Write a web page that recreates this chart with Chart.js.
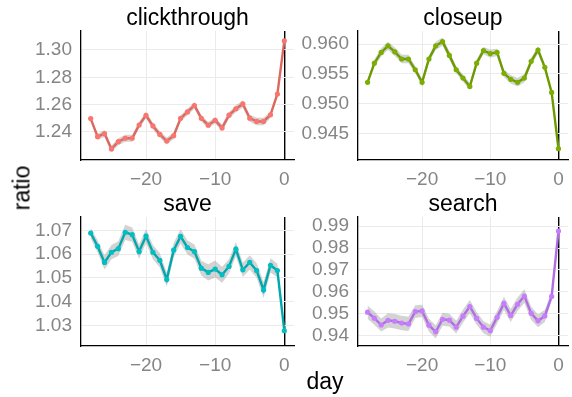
<!DOCTYPE html>
<html>
<head>
<meta charset="utf-8">
<script src="https://cdn.jsdelivr.net/npm/chart.js@4.4.1/dist/chart.umd.min.js"></script>
<style>
  html, body { margin: 0; padding: 0; background: #fff; }
  #wrap { position: relative; width: 572px; height: 397px; overflow: hidden; font-family: "Liberation Sans", Arial, sans-serif; }
  #wrap canvas { position: absolute; left: 0; top: 0; }
  .axis-title { position: absolute; font-size: 23px; line-height: 23px; color: #000; white-space: nowrap; }
  #xlab { left: 325px; top: 370px; transform: translateX(-50%); }
  #ylab { left: 22px; top: 188px; transform: translate(-50%, -50%) rotate(-90deg); }
</style>
</head>
<body>
<div id="wrap">
  <canvas id="clickthrough" width="572" height="397"></canvas>
  <canvas id="closeup" width="572" height="397"></canvas>
  <canvas id="save" width="572" height="397"></canvas>
  <canvas id="search" width="572" height="397"></canvas>
  <div class="axis-title" id="ylab">ratio</div>
  <div class="axis-title" id="xlab">day</div>
</div>
<script>
// --- Data ---
const days = [-28, -27, -26, -25, -24, -23, -22, -21, -20, -19, -18, -17, -16, -15,
              -14, -13, -12, -11, -10, -9, -8, -7, -6, -5, -4, -3, -2, -1, 0];
const xTicks = [-20, -10, 0];

const clickthroughRatio = [1.2498, 1.2366, 1.2388, 1.2276, 1.2329, 1.2354, 1.2354, 1.2451, 1.2522, 1.2444,
                           1.2382, 1.2334, 1.2372, 1.2500, 1.2547, 1.2594, 1.2500, 1.2450, 1.2485, 1.2430,
                           1.2523, 1.2570, 1.2605, 1.2501, 1.2477, 1.2477, 1.2526, 1.2678, 1.3067];
const clickthroughBand = [0.0016, 0.0022, 0.0024, 0.0026, 0.0026, 0.0026, 0.0025, 0.0024, 0.0024, 0.0024,
                          0.0024, 0.0025, 0.0024, 0.0023, 0.0024, 0.0024, 0.0023, 0.0023, 0.0023, 0.0024,
                          0.0024, 0.0025, 0.0026, 0.0026, 0.0027, 0.0027, 0.0023, 0.0014, 0.0004];
const clickthroughTicks = [1.24, 1.26, 1.28, 1.30];

const closeupRatio = [0.9536, 0.9568, 0.9586, 0.9597, 0.9587, 0.9575, 0.9575, 0.9557, 0.9536, 0.9575,
                      0.9597, 0.9604, 0.9581, 0.9557, 0.9543, 0.9529, 0.9568, 0.9589, 0.9584, 0.9586,
                      0.9551, 0.9541, 0.9536, 0.9543, 0.9571, 0.9590, 0.9561, 0.9519, 0.9425];
const closeupBand = [0.0004, 0.0006, 0.0007, 0.0007, 0.0007, 0.0007, 0.0007, 0.0006, 0.0006, 0.0006,
                     0.0007, 0.0007, 0.0007, 0.0006, 0.0006, 0.0006, 0.0006, 0.0006, 0.0007, 0.0006,
                     0.0006, 0.0007, 0.0007, 0.0007, 0.0006, 0.0006, 0.0005, 0.0004, 0.0001];
const closeupTicks = [0.945, 0.950, 0.955, 0.960];

const saveRatio = [1.0689, 1.0633, 1.0565, 1.0608, 1.0623, 1.0692, 1.0682, 1.0611, 1.0676, 1.0608,
                   1.0574, 1.0493, 1.0617, 1.0675, 1.0628, 1.0611, 1.0541, 1.0523, 1.0537, 1.0513,
                   1.0548, 1.0621, 1.0534, 1.0565, 1.0531, 1.0449, 1.0553, 1.0531, 1.0277];
const saveBand = [0.0022, 0.0026, 0.0030, 0.0030, 0.0031, 0.0032, 0.0030, 0.0030, 0.0030, 0.0030,
                  0.0030, 0.0030, 0.0030, 0.0030, 0.0030, 0.0030, 0.0031, 0.0034, 0.0036, 0.0034,
                  0.0030, 0.0030, 0.0030, 0.0030, 0.0031, 0.0034, 0.0030, 0.0028, 0.0004];
const saveTicks = [1.03, 1.04, 1.05, 1.06, 1.07];

const searchRatio = [0.9508, 0.9481, 0.9450, 0.9471, 0.9467, 0.9459, 0.9455, 0.9511, 0.9514, 0.9449,
                     0.9419, 0.9476, 0.9472, 0.9440, 0.9490, 0.9534, 0.9480, 0.9440, 0.9424, 0.9485,
                     0.9548, 0.9493, 0.9544, 0.9581, 0.9503, 0.9469, 0.9491, 0.9580, 0.9877];
const searchBand = [0.0030, 0.0030, 0.0030, 0.0032, 0.0033, 0.0033, 0.0032, 0.0029, 0.0028, 0.0029,
                    0.0030, 0.0030, 0.0029, 0.0029, 0.0030, 0.0030, 0.0029, 0.0028, 0.0027, 0.0029,
                    0.0030, 0.0030, 0.0031, 0.0031, 0.0030, 0.0029, 0.0028, 0.0020, 0.0004];
const searchTicks = [0.94, 0.95, 0.96, 0.97, 0.98, 0.99];

// --- Layout ---
const FONT = '"Liberation Sans", Arial, sans-serif';
const Y_AXIS_W = 60;
const X_AXIS_H = 30;
const CANVAS_W = 572;
const CANVAS_H = 397;

// draws the facet title above each panel
const panelTitle = {
    id: 'panelTitle',
    afterDraw(chart, args, opts) {
        const { ctx, chartArea } = chart;
        ctx.save();
        ctx.font = '23px ' + FONT;
        ctx.fillStyle = '#000';
        ctx.textAlign = 'center';
        ctx.textBaseline = 'alphabetic';
        ctx.fillText(opts.text, (chartArea.left + chartArea.right) / 2, chartArea.top - 6);
        ctx.restore();
    }
};

function fmtDay(v) {
    return v < 0 ? '\u2212' + Math.abs(v) : String(v);
}

function makePanel(id, title, values, band, color, lineColor, yMin, yMax, yTicks, decimals, area) {
    const line = days.map((d, i) => ({ x: d, y: values[i] }));
    const upper = days.map((d, i) => ({ x: d, y: values[i] + band[i] }));
    const lower = days.map((d, i) => ({ x: d, y: values[i] - band[i] }));

    return new Chart(document.getElementById(id), {
        type: 'line',
        data: {
            datasets: [
                {
                    data: line,
                    borderColor: lineColor,
                    borderWidth: 2.4,
                    pointRadius: 2.6,
                    pointBackgroundColor: color,
                    pointBorderColor: color,
                    pointBorderWidth: 0,
                    tension: 0,
                    fill: false
                },
                {
                    data: upper,
                    borderWidth: 0,
                    pointRadius: 0,
                    backgroundColor: 'rgba(150,150,150,0.42)',
                    fill: '+1'
                },
                {
                    data: lower,
                    borderWidth: 0,
                    pointRadius: 0,
                    fill: false
                }
            ]
        },
        options: {
            responsive: false,
            animation: false,
            devicePixelRatio: 1,
            events: [],
            layout: {
                padding: {
                    left: area.left - Y_AXIS_W,
                    right: CANVAS_W - area.right,
                    top: area.top,
                    bottom: CANVAS_H - area.bottom - X_AXIS_H
                }
            },
            plugins: {
                legend: { display: false },
                tooltip: { enabled: false },
                panelTitle: { text: title }
            },
            scales: {
                x: {
                    type: 'linear',
                    min: -29.4,
                    max: 1.4,
                    afterBuildTicks: s => { s.ticks = xTicks.map(v => ({ value: v })); },
                    afterFit: s => { s.height = X_AXIS_H; },
                    grid: {
                        drawTicks: false,
                        color: c => (c.tick && c.tick.value === 0) ? '#000' : '#ebebeb',
                        lineWidth: c => (c.tick && c.tick.value === 0) ? 1.4 : 1
                    },
                    border: { display: true, color: '#000', width: 1.3 },
                    ticks: {
                        padding: 8,
                        maxRotation: 0,
                        color: '#858585',
                        font: { family: FONT, size: 19 },
                        callback: v => fmtDay(v)
                    }
                },
                y: {
                    min: yMin,
                    max: yMax,
                    afterBuildTicks: s => { s.ticks = yTicks.map(v => ({ value: v })); },
                    afterFit: s => { s.width = Y_AXIS_W; },
                    grid: { drawTicks: false, color: '#ebebeb', lineWidth: 1 },
                    border: { display: true, color: '#000', width: 1.3 },
                    ticks: {
                        padding: 9,
                        color: '#858585',
                        font: { family: FONT, size: 19 },
                        callback: v => Number(v).toFixed(decimals)
                    }
                }
            }
        },
        plugins: [panelTitle]
    });
}

makePanel('clickthrough', 'clickthrough', clickthroughRatio, clickthroughBand, '#F8766D', '#de675f',
          1.2195, 1.3139, clickthroughTicks, 2, { left: 81, right: 294, top: 31, bottom: 160 });
makePanel('closeup', 'closeup', closeupRatio, closeupBand, '#7CAE00', '#6c9a00',
          0.9406, 0.96218, closeupTicks, 3, { left: 358, right: 572, top: 31, bottom: 160 });
makePanel('save', 'save', saveRatio, saveBand, '#00BFC4', '#00a8ac',
          1.02126, 1.07566, saveTicks, 2, { left: 81, right: 294, top: 217, bottom: 346 });
makePanel('search', 'search', searchRatio, searchBand, '#C77CFF', '#b06ee2',
          0.93544, 0.9941, searchTicks, 2, { left: 358, right: 572, top: 217, bottom: 346 });
</script>
</body>
</html>
